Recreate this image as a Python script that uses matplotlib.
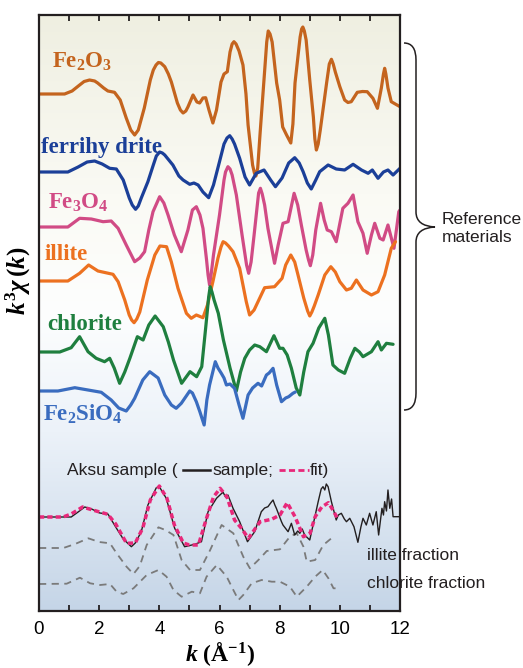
import numpy as np
import matplotlib.pyplot as plt
from matplotlib.path import Path
from matplotlib.patches import PathPatch
from matplotlib.lines import Line2D

plt.rcParams['mathtext.fontset'] = 'custom'
plt.rcParams['mathtext.rm'] = 'Liberation Serif:bold'
plt.rcParams['mathtext.it'] = 'Liberation Serif:italic:bold'
plt.rcParams['mathtext.bf'] = 'Liberation Serif:bold'

# EXAFS k^3 chi(k) spectra (arbitrary units, stacked)
k_fe2o3 = [0, 0.85, 1.1, 1.35, 1.5, 1.68, 1.85, 1.95, 2.15, 2.29, 2.51, 2.7, 2.9, 3.05, 3.18, 3.3, 3.5, 3.7,
           3.8, 3.89, 3.97, 4.05, 4.18, 4.3, 4.4, 4.6, 4.7, 4.79, 4.88, 4.95, 5.12, 5.25, 5.34, 5.45, 5.54,
           5.65, 5.78, 5.9, 6.05, 6.15, 6.26, 6.35, 6.42, 6.48, 6.55, 6.65, 6.78, 6.88, 6.95, 7.1, 7.16,
           7.21, 7.27, 7.35, 7.51, 7.57, 7.62, 7.68, 7.75, 7.9, 8.0, 8.1, 8.23, 8.37, 8.44, 8.51, 8.68,
           8.73, 8.77, 8.82, 8.88, 9.0, 9.12, 9.17, 9.22, 9.28, 9.35, 9.56, 9.65, 9.72, 9.78, 9.85, 10.0,
           10.16, 10.27, 10.38, 10.58, 10.75, 10.91, 11.1, 11.25, 11.38, 11.45, 11.49, 11.53, 11.6, 11.71, 12.0]
chi_fe2o3 = [0, 0, 3, 9, 12.5, 14, 13, 11, 6, 3, 1.7, -6, -24, -36, -41, -36, -14, 14,
             24, 29, 31.5, 31, 27.3, 20, 12, -9, -16, -19, -17, -13, -1, -8, -9, -4, -3.7,
             -16, -29, -16, 12, 20, 22.3, 42, 50, 52.3, 50, 43, 29, 0, -31, -71, -79,
             -82, -74, -39, 27, 52, 63, 60, 52, 11, -6, -33, -41, -49, -30, 11, 57,
             65, 67, 63, 54, 14, -23, -45, -56, -50, -36, 11, 30, 34.7, 30, 22, 7.3,
             -6, -8.5, -7.7, 1.7, 2.5, 2.3, -4.3, -14.3, 6, 20, 25.7, 20, 6, -7.7, -12.7]

k_ferri = [0, 0.96, 1.3, 1.6, 1.85, 2.1, 2.35, 2.57, 2.8, 3.0, 3.1, 3.21, 3.3, 3.4, 3.62, 3.8, 3.9, 4.01,
           4.1, 4.18, 4.45, 4.65, 4.79, 5.01, 5.15, 5.29, 5.45, 5.64, 5.8, 6.0, 6.15, 6.25, 6.34, 6.42, 6.5,
           6.67, 6.85, 7.0, 7.22, 7.48, 7.7, 7.86, 8.08, 8.3, 8.5, 8.65, 8.78, 8.92, 9.05, 9.2, 9.33, 9.61,
           9.88, 10.16, 10.44, 10.72, 10.94, 11.08, 11.27, 11.45, 11.6, 11.77, 12.0]
chi_ferri = [0, 0, 5, 10, 11, 8, 3.7, 3, -8, -26, -33, -37.3, -34, -26, -9.7, 7, 16, 20,
             19, 17, 7, -4, -8, -12.3, -11, -13, -20, -25.7, -13, 10.3, 28, 34, 36.3, 33, 28,
             13.7, -5, -13, -1.3, 2, -8, -14.7, -6, 9, 14.3, 9, 0.3, -11, -17, -8, 0.3, 7,
             3, 2, 7.7, 2, -1.3, 2, -6.3, 0, 2, -3, 3.7]

k_fe3o4 = [0, 0.96, 1.35, 1.74, 2.13, 2.4, 2.63, 2.9, 3.18, 3.35, 3.51, 3.65, 3.79, 4.01, 4.15, 4.29, 4.5,
           4.73, 4.95, 5.1, 5.23, 5.35, 5.45, 5.57, 5.62, 5.67, 5.72, 5.8, 6.0, 6.15, 6.2, 6.28, 6.35, 6.42,
           6.56, 6.75, 6.9, 6.97, 7.05, 7.15, 7.3, 7.36, 7.42, 7.5, 7.61, 7.83, 7.95, 8.11, 8.28, 8.48, 8.6,
           8.72, 8.88, 8.96, 9.02, 9.1, 9.2, 9.36, 9.48, 9.58, 9.72, 9.88, 10.1, 10.27, 10.44, 10.6, 10.77,
           10.91, 11.05, 11.16, 11.33, 11.44, 11.6, 11.8, 11.96, 12.0]
chi_fe3o4 = [0, 0, 8.7, 8, 5.3, 6, -1.3, -18, -34.7, -31, -24.7, -3, 15.3, 30.3, 24, 12, -8,
             -24.7, -3, 17, 20.3, 12, -1.3, -33, -48, -58, -48, -28, 12, 47, 55, 60.3, 58, 52,
             32, -8, -38, -46.3, -35, -8, 34, 38.7, 33, 22, -1.3, -36.3, -18, 3.7, 5.3, 33.7, 22,
             2, -23, -33, -38.7, -28, -3, 23.7, 7, -3, -4.7, -14.7, 18.7, 23.7, 32, 5.3, -6.3,
             -26.3, -8, 3.7, -11.3, -13, 2, -21.3, 15.3, 17]

k_illite = [0, 0.96, 1.35, 1.65, 1.96, 2.46, 2.63, 2.85, 3.0, 3.08, 3.16, 3.25, 3.35, 3.6, 3.85, 4.02, 4.24,
            4.4, 4.62, 4.9, 5.06, 5.23, 5.45, 5.6, 5.78, 5.95, 6.05, 6.12, 6.2, 6.3, 6.45, 6.67, 6.89, 7.0,
            7.15, 7.28, 7.5, 7.83, 8.08, 8.2, 8.37, 8.5, 8.61, 8.8, 8.93, 9.0, 9.07, 9.15, 9.28, 9.5, 9.7,
            9.85, 10.0, 10.22, 10.38, 10.55, 10.77, 11.05, 11.27, 11.49, 11.71, 11.85]
chi_illite = [0, 0, 7.7, 16, 10, 6.7, -0.7, -19, -34, -39, -41.7, -38, -31, 1, 26, 35, 34.3,
              19, -7.3, -32.3, -37.3, -34, -36.7, -24, -0.7, 23, 34, 39.3, 38, 35, 29.3, 12.7, -20.7, -34,
              -29, -20.7, -6.7, -5.7, 2.7, 16, 26, 19, 6, -17, -30, -35, -31, -25, -14, 6, 14.3,
              9, -0.7, -9, -7.3, 1, -9, -14, -10.7, 6, 32.7, 39.3]

k_chlorite = [0, 0.69, 1.07, 1.35, 1.63, 1.9, 2.18, 2.35, 2.5, 2.68, 2.85, 3.02, 3.27, 3.46, 3.65, 3.86, 4.13,
              4.3, 4.47, 4.74, 5.02, 5.24, 5.41, 5.55, 5.64, 5.69, 5.75, 5.82, 5.96, 6.13, 6.35, 6.56, 6.7,
              6.84, 7.0, 7.17, 7.34, 7.56, 7.81, 8.0, 8.11, 8.25, 8.39, 8.55, 8.67, 8.8, 8.94, 9.11, 9.3,
              9.5, 9.62, 9.77, 9.95, 10.16, 10.35, 10.5, 10.65, 10.77, 11.05, 11.27, 11.38, 11.55, 11.77]
chi_chlorite = [0, 0, 4.3, 15.3, 0.3, -6.3, -9.7, -6.3, -16, -31.3, -20, -6.3, 15.3, 12, 27, 36, 25.3,
                10, -8, -31.3, -19.7, -24.7, -14.7, 27, 55, 65.3, 60, 52, 38.7, 12, -16, -39, -20,
                -6.3, 2, 7, 5.3, 0.3, 16.3, 3.7, 3.7, -3, -16.3, -36, -43, -20, 0.3, 8.7, 24,
                33.7, 17, -13, -18, -21.3, -6, 3.7, 0, -4.7, 0.3, 10.3, 2, 8.7, 7.7]

k_fe2sio4 = [0, 0.63, 1.19, 1.63, 2.07, 2.4, 2.65, 2.9, 3.05, 3.18, 3.45, 3.68, 3.96, 4.18, 4.4, 4.56, 4.73,
             5.01, 5.1, 5.23, 5.35, 5.49, 5.58, 5.67, 5.86, 5.95, 6.06, 6.15, 6.23, 6.35, 6.5, 6.65, 6.78,
             6.95, 7.1, 7.28, 7.4, 7.56, 7.65, 7.78, 7.9, 8.06, 8.2, 8.3, 8.44, 8.52]
chi_fe2sio4 = [0, 0, 3.3, 1, -1.3, -9, -17, -20, -14, -7.3, 11, 19.3, 13, -4, -14, -17.3, -12.3,
               0, -2, -10.7, -21, -34, -9, 6, 29.3, 23, 17.7, 13, 6, 7, 2.7, -14, -27.3,
               -4, 3, 7.7, 5, 16, 18, 22.7, 6, -10.7, -7, -5.7, -2.3, -1]

k_sample = [0, 1.07, 1.3, 1.52, 1.75, 2.02, 2.29, 2.57, 2.8, 3.07, 3.2, 3.4, 3.62, 3.9, 4.0, 4.23, 4.51,
            4.84, 5.18, 5.4, 5.62, 5.9, 6.05, 6.12, 6.2, 6.28, 6.45, 6.67, 6.93, 7.17, 7.39, 7.5, 7.61, 7.7,
            7.78, 7.84, 7.89, 8.06, 8.11, 8.28, 8.39, 8.5, 8.6, 8.67, 8.75, 8.83, 9.0, 9.11, 9.28, 9.38,
            9.44, 9.5, 9.55, 9.61, 9.72, 9.88, 9.95, 10.05, 10.15, 10.22, 10.33, 10.47, 10.6, 10.7, 10.77,
            10.88, 10.99, 11.1, 11.21, 11.29, 11.4, 11.45, 11.49, 11.55, 11.6, 11.66, 11.72, 11.77, 12.0]
chi_sample = [0, 0, 5, 10, 8, 4, 3, -11, -22, -29.7, -26, -14.7, 12, 29.3, 30.3, 18.7, -11.3,
              -29.7, -27.3, -24.7, 5.3, 18.7, 23, 24.7, 20, 22, 8.7, -4.7, -24.7, -14.7, 5.3, 9, 10.3, 14,
              17, 12, 8.7, -4.7, -8, -14.7, -6.3, -18, -14, -16.3, -12, -18, -23, -8, 15.3, 28,
              30.3, 27, 33, 30.3, 15.3, -3, 2, 3.7, -2, -4.7, -1.3, -9.7, -25.3, -10, -1.3,
              -8, 3.7, -8, 5.3, -18, 8.7, 2, 15.3, 6, 27, 8.7, 18, 0.3, 0.3]

k_fit = [0, 0.8, 1.07, 1.45, 1.9, 2.29, 2.55, 2.91, 3.2, 3.45, 3.7, 4.0, 4.25, 4.5, 4.8, 5.0, 5.3, 5.55,
         5.8, 6.02, 6.25, 6.5, 6.73, 6.96, 7.35, 7.73, 8.01, 8.25, 8.51, 8.79, 9.01, 9.18, 9.4, 9.62,
         9.77, 9.92]
chi_fit = [0, 0, 3, 10, 6, 2.7, -7, -26.3, -26, -11, 17, 31, 19, -8, -26, -28, -28, -3,
           20, 28.7, 20, -3, -11.3, -21.3, -4.7, -2.3, 2, 14.3, 0.3, -19.7, -16.3, 0.3, 10, 14.3,
           7, -1.3]

k_ill_frac = [0, 0.81, 1.2, 1.64, 2.0, 2.36, 2.58, 2.91, 3.14, 3.35, 3.58, 3.97, 4.2, 4.47, 4.74, 5.02, 5.35,
              5.69, 6.07, 6.46, 6.79, 7.01, 7.35, 7.57, 8.01, 8.34, 8.57, 8.79, 8.9, 9.18, 9.45, 9.76, 9.84]
chi_ill_frac = [0, 0, 4, 9.7, 6, 4.7, -5.3, -18.7, -26, -18, 3, 20.7, 18, 13, -12, -22, -22,
                -2, 23, 14.7, -8.7, -20.3, -10.3, -3, -1.3, 11.3, 14.7, 1.3, -13.7, -12, 3, 10.7, 9.7]

k_chl_frac = [0, 0.92, 1.36, 1.7, 2.03, 2.36, 2.58, 2.8, 3.14, 3.58, 3.97, 4.24, 4.47, 4.74, 5.08, 5.35, 5.57,
              5.91, 6.24, 6.46, 6.63, 6.79, 7.07, 7.4, 7.74, 8.01, 8.34, 8.57, 8.9, 9.18, 9.43, 9.62, 9.79, 9.95]
chi_chl_frac = [0, 0.3, 6.3, 0.7, -1, 0, -7.7, -10, -4.3, 9, 14, 7.3, -6, -12.7, -7.7, -9.3, 7.3,
                19, 7.3, -6, -16, -11, 0.7, 4, 2.3, 2.3, -2.7, -12.7, -2.7, 7.3, 14, 5.7, -4.3, -4.3]

# vertical stacking offsets
off_fe2o3, off_ferri, off_fe3o4, off_illite = 517, 439, 384, 330
off_chlorite, off_fe2sio4 = 259, 220
off_sample, off_ill_frac, off_chl_frac = 94, 63, 27

fig = plt.figure(figsize=(5.23, 6.68), dpi=100)
ax = fig.add_axes([39 / 523, 1 - 611 / 668, 361 / 523, 596 / 668])
ax.set_xlim(0, 12)
ax.set_ylim(0, 596)

# background gradient (yellowish top -> white -> light blue bottom)
stops = np.array([0.0, 0.3, 0.5, 0.7, 1.0])
cols = np.array([[239, 239, 225], [250, 250, 244], [253, 254, 254], [236, 242, 249], [197, 213, 231]]) / 255
t = np.linspace(0, 1, 300)
grad = np.stack([np.interp(t, stops, cols[:, i]) for i in range(3)], axis=1)[:, None, :]
ax.imshow(grad, extent=[0, 1, 0, 1], transform=ax.transAxes, aspect='auto', zorder=0)

lw = 2.3
style = dict(lw=lw, solid_joinstyle='round', solid_capstyle='round')
ax.plot(k_fe2o3, np.array(chi_fe2o3) + off_fe2o3, color='#c4641e', **style)
ax.plot(k_ferri, np.array(chi_ferri) + off_ferri, color='#1b3f98', **style)
ax.plot(k_fe3o4, np.array(chi_fe3o4) + off_fe3o4, color='#d14b85', **style)
ax.plot(k_illite, np.array(chi_illite) + off_illite, color='#ec7120', **style)
ax.plot(k_chlorite, np.array(chi_chlorite) + off_chlorite, color='#1f7f3f', **style)
ax.plot(k_fe2sio4, np.array(chi_fe2sio4) + off_fe2sio4, color='#3a6cbf', **style)

ax.plot(k_ill_frac, np.array(chi_ill_frac) + off_ill_frac, color='#7a7a7a', lw=1.3, ls=(0, (4, 3)))
ax.plot(k_chl_frac, np.array(chi_chl_frac) + off_chl_frac, color='#7a7a7a', lw=1.3, ls=(0, (4, 3)))
ax.plot(k_sample, np.array(chi_sample) + off_sample, color='#231f20', lw=1.0)
ax.plot(k_fit, np.array(chi_fit) + off_sample, color='#e8287a', lw=2.5, ls=(0, (1.5, 0.9)))

# labels of reference spectra
lab = dict(fontsize=16.5, ha='left', va='center', family='Liberation Serif', fontweight='bold')
ax.text(0.43, 549, r'Fe$_\mathrm{2}$O$_\mathrm{3}$', color='#c4641e', **lab)
ax.text(0.05, 464, 'ferrihy drite', color='#1b3f98', **lab)
ax.text(0.3, 408, r'Fe$_\mathrm{3}$O$_\mathrm{4}$', color='#d14b85', **lab)
ax.text(0.2, 356, 'illite', color='#ec7120', **lab)
ax.text(0.27, 287, 'chlorite', color='#1f7f3f', **lab)
ax.text(0.13, 197, r'Fe$_\mathrm{2}$SiO$_\mathrm{4}$', color='#3a6cbf', **lab)

# inline legend for the Aksu sample
sans = dict(family='Liberation Sans', fontsize=12.5, va='center', color='#231f20')
ax.text(0.92, 140, 'Aksu sample (', ha='left', **sans)
ax.add_line(Line2D([4.78, 5.7], [141, 141], color='#231f20', lw=1.8))
ax.text(5.78, 140, 'sample;', ha='left', **sans)
ax.add_line(Line2D([7.98, 8.98], [141, 141], color='#e8287a', lw=2.0, ls=(0, (2.2, 1.2))))
ax.text(9.0, 140, 'fit)', ha='left', **sans)
ax.text(10.9, 56, 'illite fraction', ha='left', clip_on=False, zorder=5, **sans)
ax.text(10.9, 28, 'chlorite fraction', ha='left', clip_on=False, zorder=5, **sans)

# axes styling
for s in ax.spines.values():
    s.set_linewidth(1.6)
    s.set_color('#231f20')
ax.set_xticks(np.arange(0, 13, 1), minor=True)
ax.set_xticks(np.arange(0, 13, 2))
ax.set_xticklabels([str(v) for v in range(0, 13, 2)], family='Liberation Sans', fontsize=13.5)
ax.tick_params(axis='x', which='both', direction='in', top=True, length=4, width=1.3, color='#231f20', pad=7)
ax.set_yticks([])
ax.set_xlabel(r'$k$ (Å$^{-1}$)', fontsize=17, family='Liberation Serif', fontweight='bold', labelpad=2)
ax.set_ylabel(r'$k^{3}\chi\,(k)$', fontsize=18)
ax.yaxis.set_label_coords(-0.018, 0.555)

# curly brace for the reference materials
W, H = 523, 668
pts = [(404, 43), (416, 43), (416, 60), (416, 212), (416, 226), (435, 227), (416, 228), (416, 242),
       (416, 393), (416, 410), (404, 410)]
codes = [Path.MOVETO, Path.CURVE3, Path.CURVE3, Path.LINETO, Path.CURVE3, Path.CURVE3, Path.CURVE3, Path.CURVE3,
         Path.LINETO, Path.CURVE3, Path.CURVE3]
brace = Path([(x / W, 1 - y / H) for x, y in pts], codes)
fig.add_artist(PathPatch(brace, transform=fig.transFigure, fill=False, lw=1.1, edgecolor='#231f20'))
fig.text(442 / W, 1 - 228 / H, 'Reference\nmaterials', family='Liberation Sans', fontsize=12.5,
         ha='left', va='center', linespacing=1.25, color='#231f20')

plt.savefig('out.png', dpi=100)
